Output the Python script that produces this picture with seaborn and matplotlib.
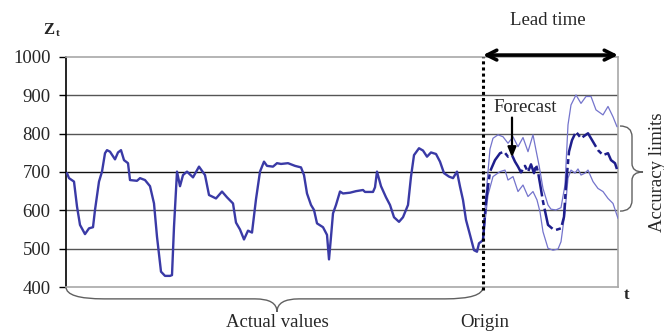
import matplotlib
matplotlib.use("Agg")
import matplotlib.pyplot as plt
import matplotlib.transforms as mtransforms
from matplotlib.path import Path
from matplotlib.patches import PathPatch
import pandas as pd
import seaborn as sns

# ---- data -------------------------------------------------------------
actual_t = [1, 3, 8, 11, 14, 19, 23, 27, 29, 33, 36, 39, 41, 44, 49, 52, 55, 58, 62, 64,
            71, 74, 79, 84, 88, 91, 95, 99, 104, 106, 108, 110, 111, 114, 117, 121, 127,
            133, 139, 143, 150, 156, 161, 167, 170, 174, 178, 182, 186, 190, 194, 198,
            201, 207, 211, 215, 222, 229, 235, 238, 241, 245, 248, 251, 257, 261, 263,
            265, 267, 270, 274, 277, 284, 290, 297, 299, 307, 309, 311, 315, 320, 324,
            328, 333, 337, 342, 345, 348, 353, 357, 361, 365, 370, 374, 378, 383, 387,
            391, 394, 397, 400, 404, 408, 411, 413, 417]
actual_z = [697, 684, 675, 610, 562, 538, 553, 556, 601, 675, 701, 749, 757, 753, 733, 751,
            757, 731, 723, 679, 677, 684, 679, 663, 618, 531, 440, 429, 429, 431, 557, 653,
            701, 663, 692, 701, 686, 714, 692, 640, 631, 649, 634, 618, 568, 550, 524, 547,
            542, 629, 701, 727, 716, 714, 723, 721, 723, 716, 712, 692, 644, 614, 601, 566,
            556, 536, 472, 531, 592, 614, 649, 644, 646, 650, 653, 648, 648, 660, 701, 663,
            634, 614, 582, 570, 582, 614, 688, 744, 762, 756, 740, 751, 747, 727, 697, 688,
            684, 701, 662, 627, 575, 536, 496, 492, 514, 522]

forecast_t = [417, 420, 424, 429, 434, 438, 442, 446, 449, 452, 455, 459, 462, 465, 468,
              470, 472, 474, 477, 482, 487, 490, 495, 498, 500, 503, 506, 510, 515, 522,
              527, 532, 537, 542, 545, 549, 552]
forecast_z = [522, 623, 701, 731, 749, 753, 740, 744, 727, 714, 699, 716, 700, 720, 697,
              719, 700, 670, 623, 562, 551, 549, 553, 583, 666, 753, 783, 805, 788, 801,
              779, 757, 744, 749, 731, 723, 699]

upper_t = [417, 420, 424, 427, 432, 437, 442, 447, 452, 457, 462, 467, 470, 473, 477, 482,
           485, 490, 495, 499, 502, 505, 510, 515, 520, 525, 530, 537, 542, 547, 551]
upper_z = [522, 640, 760, 788, 797, 792, 775, 792, 766, 790, 753, 797, 757, 718, 657, 614,
           603, 601, 607, 666, 823, 875, 901, 879, 897, 897, 862, 849, 871, 844, 818]

lower_t = [417, 422, 427, 434, 439, 442, 447, 452, 457, 462, 467, 471, 474, 477, 482, 487,
           492, 495, 499, 502, 505, 509, 512, 515, 519, 522, 527, 532, 537, 542, 547, 552]
lower_z = [522, 640, 688, 701, 705, 679, 688, 649, 666, 636, 649, 627, 596, 544, 501, 496,
           499, 518, 596, 684, 705, 697, 708, 692, 697, 705, 675, 657, 649, 631, 618, 579]

z_ticks = [400, 500, 600, 700, 800, 900, 1000]
origin_t = 417
horizon_t = 552

# ---- style ------------------------------------------------------------
sns.set_style("white")
plt.rcParams["font.family"] = ["Liberation Serif", "DejaVu Serif"]

W, H = 664, 335
fig = plt.figure(figsize=(W / 100, H / 100), dpi=100)
ax = fig.add_axes([66 / W, 1 - 287 / H, (618 - 66) / W, (287 - 57) / H])
px = mtransforms.Affine2D().scale(1 / W, -1 / H).translate(0, 1) + fig.transFigure

actual = pd.DataFrame({"t": actual_t, "z": actual_z})
forecast = pd.DataFrame({"t": forecast_t, "z": forecast_z})
upper = pd.DataFrame({"t": upper_t, "z": upper_z})
lower = pd.DataFrame({"t": lower_t, "z": lower_z})

# horizontal reference lines
for z in z_ticks[1:-1]:
    ax.axhline(z, color="#111111" if z == 700 else "#555555", lw=1.0, zorder=1)

sns.lineplot(data=actual, x="t", y="z", ax=ax, color="#3a3aa6", linewidth=1.7,
             estimator=None, sort=False, zorder=3)
sns.lineplot(data=upper, x="t", y="z", ax=ax, color="#7474cc", linewidth=0.9,
             estimator=None, sort=False, zorder=3)
sns.lineplot(data=lower, x="t", y="z", ax=ax, color="#7474cc", linewidth=0.9,
             estimator=None, sort=False, zorder=3)
sns.lineplot(data=forecast, x="t", y="z", ax=ax, color="#1e1e8c", linewidth=1.8,
             linestyle=(0, (9, 1.5, 2, 1.5)), estimator=None, sort=False, zorder=4)

ax.set_xlim(0, horizon_t)
ax.set_ylim(z_ticks[0], z_ticks[-1])
ax.set_yticks(z_ticks)
ax.set_yticklabels([str(z) for z in z_ticks], fontsize=13.5)
ax.set_xticks([])
ax.set_xlabel("")
ax.set_ylabel("")
ax.tick_params(axis="y", left=True, length=5, width=1, color="black", pad=6)

for side in ("top", "right", "bottom"):
    ax.spines[side].set_color("#a8a8a8")
    ax.spines[side].set_linewidth(1.2)
ax.spines["left"].set_color("black")
ax.spines["left"].set_linewidth(1.2)

# forecast origin
ax.plot([origin_t, origin_t], [392, z_ticks[-1]], color="black", lw=2.2,
        linestyle=(0, (1, 1)), clip_on=False, zorder=5)

# lead time arrow
ax.annotate("", xy=(horizon_t, 1005), xytext=(origin_t, 1005),
            arrowprops=dict(arrowstyle="<->,head_length=0.7,head_width=0.35",
                            lw=2.6, color="black", shrinkA=0, shrinkB=0),
            annotation_clip=False)
ax.text(482, 1096, "Lead time", ha="center", va="center", fontsize=13.5, clip_on=False)

# forecast pointer
ax.text(459, 867, "Forecast", ha="center", va="center", fontsize=13.5, zorder=6)
ax.annotate("", xy=(446, 738), xytext=(446, 842),
            arrowprops=dict(arrowstyle="-|>,head_length=0.6,head_width=0.25",
                            lw=1.6, color="black", shrinkA=0, shrinkB=0), zorder=6)


def hbrace(x0, x1, xm, y0, yh, ytip, qe, qm):
    verts = [(x0, y0), (x0, yh), (x0 + qe, yh),
             (xm - qm, yh),
             (xm, yh), (xm, ytip),
             (xm, yh), (xm + qm, yh),
             (x1 - qe, yh),
             (x1, yh), (x1, y0)]
    codes = [Path.MOVETO, Path.CURVE3, Path.CURVE3,
             Path.LINETO,
             Path.CURVE3, Path.CURVE3,
             Path.CURVE3, Path.CURVE3,
             Path.LINETO,
             Path.CURVE3, Path.CURVE3]
    return Path(verts, codes)


def vbrace(y0, y1, ym, x0, xh, xtip, qe, qm):
    verts = [(x0, y0), (xh, y0), (xh, y0 - qe),
             (xh, ym + qm),
             (xh, ym), (xtip, ym),
             (xh, ym), (xh, ym - qm),
             (xh, y1 + qe),
             (xh, y1), (x0, y1)]
    codes = [Path.MOVETO, Path.CURVE3, Path.CURVE3,
             Path.LINETO,
             Path.CURVE3, Path.CURVE3,
             Path.CURVE3, Path.CURVE3,
             Path.LINETO,
             Path.CURVE3, Path.CURVE3]
    return Path(verts, codes)


ax.add_patch(PathPatch(hbrace(0, origin_t, 211, 400, 369, 335, 38, 22),
                       fill=False, edgecolor="#606060", lw=1.0, clip_on=False))
ax.add_patch(PathPatch(vbrace(820, 598, 700, 554, 566, 577, 28, 22),
                       fill=False, edgecolor="#606060", lw=1.0, clip_on=False))

ax.text(211, 307, "Actual values", ha="center", va="center", fontsize=13.5, clip_on=False)
ax.text(origin_t + 2, 307, "Origin", ha="center", va="center", fontsize=13.5, clip_on=False)
ax.text(591, 700, "Accuracy limits", ha="center", va="center", rotation=90,
        fontsize=13.5, clip_on=False)
ax.text(561, 379, "t", ha="center", va="center", fontsize=12, fontweight="bold",
        clip_on=False)

# axis title Z_t
fig.text(49, 30, "Z", transform=px, ha="center", va="center", fontsize=12,
         fontweight="bold")
fig.text(58, 34, "t", transform=px, ha="center", va="center", fontsize=8,
         fontweight="bold")

fig.savefig("out.png", dpi=100)
